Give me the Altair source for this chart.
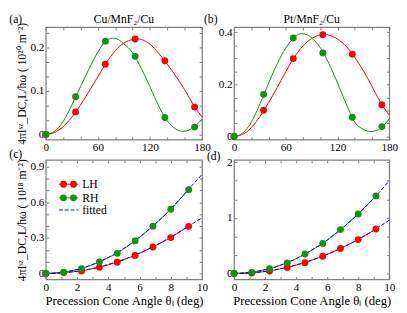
import altair as alt
import pandas as pd

FONT = "Liberation Serif"
RED = "#ff0000"
GREEN = "#119211"
BLUE = "#0000ff"
FRAME = "#808080"

# ---- panels (a), (b): precession phase (deg) ----
ANG_PTS = [0, 34.3, 68.6, 102.9, 137.1, 171.4]
A_LH_PTS = [0, 0.052, 0.162, 0.220, 0.170, 0.063]
A_RH_PTS = [0, 0.087, 0.215, 0.180, 0.039, 0.017]
B_LH_PTS = [0, 0.101, 0.299, 0.391, 0.316, 0.122]
B_RH_PTS = [0, 0.162, 0.378, 0.321, 0.074, 0.038]

A_LH_CX = [0, 10, 20, 30, 40, 50, 60, 70, 80, 90, 100, 105, 110, 120, 130, 140, 150, 160, 170, 180]
A_LH_CY = [0, 0.0045, 0.018, 0.040, 0.068, 0.100, 0.133, 0.166, 0.193, 0.211, 0.219, 0.2205,
           0.219, 0.208, 0.187, 0.162, 0.134, 0.103, 0.069, 0.040]
A_RH_CX = [0, 10, 20, 30, 40, 50, 60, 70, 78, 85, 90, 100, 110, 120, 130, 140, 150, 158, 165, 170, 180]
A_RH_CY = [0, 0.007, 0.030, 0.068, 0.110, 0.152, 0.190, 0.217, 0.222, 0.217, 0.209, 0.188,
           0.152, 0.110, 0.066, 0.031, 0.012, 0.007, 0.010, 0.016, 0.035]
B_LH_CX = [0, 10, 20, 30, 40, 50, 60, 70, 80, 90, 100, 105, 110, 120, 130, 140, 150, 160, 170, 180]
B_LH_CY = [0, 0.008, 0.034, 0.077, 0.130, 0.188, 0.249, 0.305, 0.348, 0.376, 0.390, 0.392,
           0.389, 0.374, 0.346, 0.304, 0.252, 0.192, 0.130, 0.082]
B_RH_CX = [0, 10, 20, 30, 40, 50, 60, 70, 78, 85, 90, 100, 110, 120, 130, 140, 150, 158, 165, 170, 180]
B_RH_CY = [0, 0.013, 0.055, 0.125, 0.205, 0.279, 0.340, 0.381, 0.395, 0.390, 0.378, 0.341,
           0.280, 0.205, 0.125, 0.055, 0.027, 0.019, 0.023, 0.032, 0.068]

# ---- panels (c), (d): precession cone angle (deg) ----
CONE_PTS = [0, 1.143, 2.286, 3.429, 4.571, 5.714, 6.857, 8.0, 9.143]
C_LH_PTS = [0, 0.008, 0.022, 0.052, 0.095, 0.153, 0.224, 0.303, 0.398]
C_RH_PTS = [0, 0.011, 0.040, 0.097, 0.170, 0.275, 0.399, 0.542, 0.706]
D_LH_PTS = [0, 0.010, 0.045, 0.108, 0.195, 0.310, 0.450, 0.610, 0.800]
D_RH_PTS = [0, 0.020, 0.087, 0.190, 0.350, 0.540, 0.790, 1.070, 1.395]

FIT_X = [0, 1, 2, 3, 4, 5, 6, 7, 8, 9, 10]
C_LH_FIT = [0, 0.005, 0.019, 0.043, 0.077, 0.120, 0.173, 0.235, 0.307, 0.389, 0.470]
C_RH_FIT = [0, 0.0085, 0.034, 0.077, 0.136, 0.213, 0.306, 0.417, 0.544, 0.690, 0.835]
D_LH_FIT = [0, 0.0096, 0.038, 0.086, 0.154, 0.240, 0.346, 0.470, 0.614, 0.778, 0.960]
D_RH_FIT = [0, 0.0167, 0.067, 0.150, 0.267, 0.418, 0.600, 0.820, 1.070, 1.350, 1.670]

SERIES = ["LH", "RH", "fitted"]

# axis ticks
PHASE_TICKS = [0, 20, 40, 60, 80, 100, 120, 140, 160, 180]
CONE_TICKS = [0, 1, 2, 3, 4, 5, 6, 7, 8, 9, 10]
A_Y_TICKS = [0, 0.0333, 0.0667, 0.1, 0.1333, 0.1667, 0.2, 0.2333]
B_Y_TICKS = [0, 0.05, 0.1, 0.15, 0.2, 0.25, 0.3, 0.35, 0.4]
C_Y_TICKS = [0, 0.1, 0.2, 0.3, 0.4, 0.5, 0.6, 0.7, 0.8, 0.9]
D_Y_TICKS = [0, 0.3333, 0.6667, 1, 1.3333, 1.6667, 2]

TOP_YTITLE = "4πIˢᶻ_DC,L/ħω ( 10²⁰ m⁻²)"
BOT_YTITLE = "4πIˢᶻ_DC,L/ħω ( 10¹⁸ m⁻²)"
XTITLE = "Precession Cone Angle θₗ (deg)"

# legend layout (pixels inside panel (c))
LEG_ROW_Y = [25, 39, 51.5]
LEG_LINE_X = (13.5, 33.5)
LEG_DOT_X = (18.2, 28.5)
LEG_TEXT_X = 37.5


def long_df(xs, ys, name):
    return pd.DataFrame({"x": xs, "y": ys, "s": name})


def label_expr(major, fmt):
    return (f"abs(datum.value/{major} - round(datum.value/{major})) < 0.001 ? "
            f"(abs(datum.value) < 1e-9 ? '0' : format(datum.value, '{fmt}')) : ''")


def make_axis(orient, values, major, fmt, labels=True, title=None, title_size=12):
    kw = dict(orient=orient, values=values, tickSize=3, offset=-3, domain=False,
              grid=False, tickColor=FRAME, tickWidth=1, labels=labels,
              labelOverlap=False, labelFlush=False)
    if labels:
        kw.update(labelExpr=label_expr(major, fmt), labelFont=FONT, labelFontSize=11.5,
                  labelColor="black", labelPadding=2)
    if title is not None:
        kw.update(title=title, titleFont=FONT, titleFontSize=title_size, titleFontWeight="normal",
                  titleColor="black", titlePadding=2)
    else:
        kw.update(title=None)
    return alt.Axis(**kw)


color_scale = alt.Scale(domain=SERIES, range=[RED, GREEN, BLUE])
ONE = pd.DataFrame({"k": [0]})


def legend_layers():
    out = []
    cols = [RED, GREEN, BLUE]
    for name, c, yv in zip(SERIES, cols, LEG_ROW_Y):
        rule_kw = dict(strokeWidth=1, color=c)
        if name == "fitted":
            rule_kw["strokeDash"] = [4, 2]
        out.append(alt.Chart(ONE).mark_rule(**rule_kw).encode(
            x=alt.value(LEG_LINE_X[0]), x2=alt.value(LEG_LINE_X[1]), y=alt.value(yv)))
        if name != "fitted":
            for dx in LEG_DOT_X:
                out.append(alt.Chart(ONE).mark_circle(size=50, opacity=1, color=c).encode(
                    x=alt.value(dx), y=alt.value(yv)))
        out.append(alt.Chart(ONE).mark_text(font=FONT, fontSize=12, align="left",
                                            baseline="middle", color="black").encode(
            x=alt.value(LEG_TEXT_X), y=alt.value(yv), text=alt.value(name)))
    return out


def panel(curves, pts, fits, xdom, ydom, xticks, xmajor, xfmt, yticks, ymajor, yfmt,
          title, plabel, plx, ply, ytitle, xtitle, w, h, legend=False):
    xs = alt.Scale(domain=xdom, nice=False, zero=False)
    ys = alt.Scale(domain=ydom, nice=False, zero=False)
    xax = make_axis("bottom", xticks, xmajor, xfmt, True, xtitle, 13)
    yax = make_axis("left", yticks, ymajor, yfmt, True, ytitle, 12)
    X = alt.X("x:Q", scale=xs, axis=xax)
    Y = alt.Y("y:Q", scale=ys, axis=yax)
    col = alt.Color("s:N", scale=color_scale, legend=None)
    layers = []
    if curves is not None:
        layers.append(alt.Chart(curves).mark_line(strokeWidth=1, interpolate="monotone").encode(
            x=X, y=Y, color=col))
    else:
        layers.append(alt.Chart(pts).mark_line(strokeWidth=1).encode(x=X, y=Y, color=col))
    if fits is not None:
        layers.append(alt.Chart(fits).mark_line(strokeWidth=1, strokeDash=[4, 2],
                                                interpolate="monotone").encode(
            x=X, y=Y, detail="s:N", color=alt.value(BLUE)))
    layers.append(alt.Chart(pts).mark_circle(size=50, opacity=1).encode(x=X, y=Y, color=col))
    labels = [plabel]
    lx = [plx]
    if title:
        labels.append(title)
        lx.append(w / 2)
    for t, px in zip(labels, lx):
        layers.append(alt.Chart(pd.DataFrame({"t": [t]})).mark_text(
            font=FONT, fontSize=12, align="center", baseline="middle", color="black").encode(
            text="t:N", x=alt.value(px), y=alt.value(ply)))
    if legend:
        layers.extend(legend_layers())
    main = alt.layer(*layers)
    dummy = alt.Chart(pts).mark_point(opacity=0).encode(
        x=alt.X("x:Q", scale=xs, axis=make_axis("top", xticks, xmajor, xfmt, False)),
        y=alt.Y("y:Q", scale=ys, axis=make_axis("right", yticks, ymajor, yfmt, False)))
    ch = alt.layer(main, dummy).resolve_scale(x="independent", y="independent")
    return ch.properties(width=w, height=h)


a_curves = pd.concat([long_df(A_LH_CX, A_LH_CY, "LH"), long_df(A_RH_CX, A_RH_CY, "RH")])
a_pts = pd.concat([long_df(ANG_PTS, A_LH_PTS, "LH"), long_df(ANG_PTS, A_RH_PTS, "RH")])
b_curves = pd.concat([long_df(B_LH_CX, B_LH_CY, "LH"), long_df(B_RH_CX, B_RH_CY, "RH")])
b_pts = pd.concat([long_df(ANG_PTS, B_LH_PTS, "LH"), long_df(ANG_PTS, B_RH_PTS, "RH")])
c_pts = pd.concat([long_df(CONE_PTS, C_LH_PTS, "LH"), long_df(CONE_PTS, C_RH_PTS, "RH")])
c_fit = pd.concat([long_df(FIT_X, C_LH_FIT, "LHfit"), long_df(FIT_X, C_RH_FIT, "RHfit")])
d_pts = pd.concat([long_df(CONE_PTS, D_LH_PTS, "LH"), long_df(CONE_PTS, D_RH_PTS, "RH")])
d_fit = pd.concat([long_df(FIT_X, D_LH_FIT, "LHfit"), long_df(FIT_X, D_RH_FIT, "RHfit")])

TOP_H = 116
BOT_H = 123

pa = panel(a_curves, a_pts, None, [0, 180], [-0.012, 0.2475], PHASE_TICKS, 60, "d",
           A_Y_TICKS, 0.1, ".1f", "Cu/MnF₂/Cu", "(a)", -31, -8, TOP_YTITLE, None, 161, TOP_H)
pb = panel(b_curves, b_pts, None, [0, 180], [-0.012, 0.42], PHASE_TICKS, 60, "d",
           B_Y_TICKS, 0.2, ".1f", "Pt/MnF₂/Cu", "(b)", -24, -8, None, None, 160, TOP_H)
pc = panel(None, c_pts, c_fit, [0, 10], [-0.049, 0.957], CONE_TICKS, 2, "d",
           C_Y_TICKS, 0.3, ".1f", None, "(c)", -31, -6, BOT_YTITLE, XTITLE, 161, BOT_H, legend=True)
pd_ = panel(None, d_pts, d_fit, [0, 10], [-0.105, 2.04], CONE_TICKS, 2, "d",
            D_Y_TICKS, 1, "d", None, "(d)", -21, -4, None, XTITLE, 160, BOT_H)

chart = alt.concat(pa, pb, pc, pd_, columns=2, spacing={"row": 21, "column": 33},
                   bounds="flush").properties(padding=0).configure_view(
    stroke=FRAME, strokeWidth=1.3)

chart.save("out.html", embed_options={"renderer": "svg", "actions": False})
